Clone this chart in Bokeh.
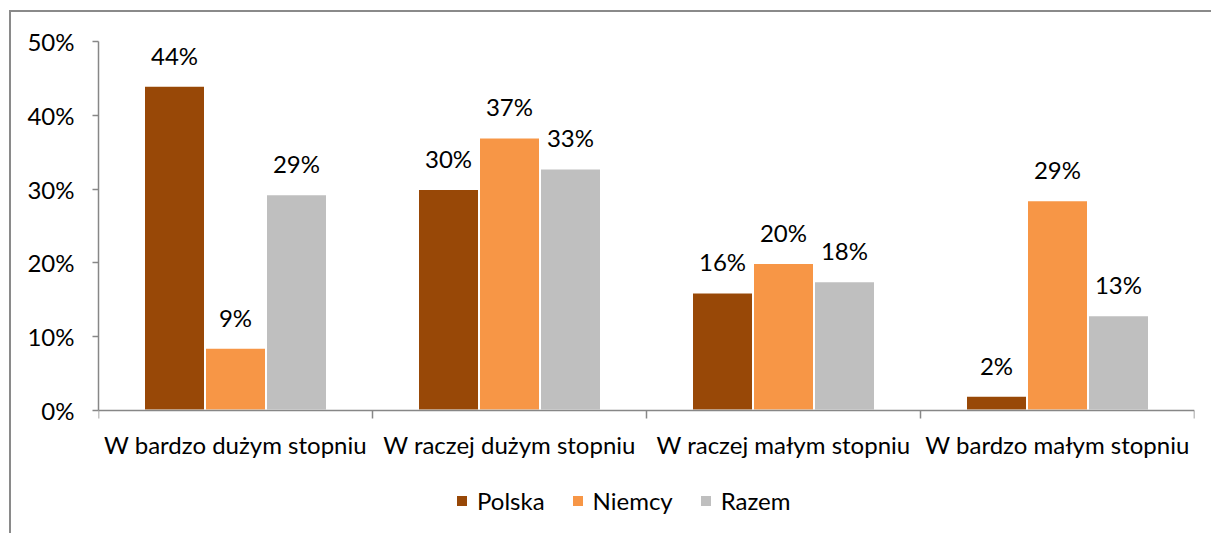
from bokeh.plotting import figure
from bokeh.models import (ColumnDataSource, Range1d, FixedTicker, LabelSet, Legend,
                          LegendItem)
from bokeh.core.properties import value
from bokeh.embed import file_html
from bokeh.resources import INLINE

categories = ["W bardzo dużym stopniu", "W raczej dużym stopniu",
              "W raczej małym stopniu", "W bardzo małym stopniu"]
series_names = ["Polska", "Niemcy", "Razem"]
polska = [44.0, 30.0, 16.0, 2.0]
niemcy = [8.5, 37.0, 20.0, 28.5]
razem = [29.3, 32.8, 17.5, 12.9]
polska_labels = ["44%", "30%", "16%", "2%"]
niemcy_labels = ["9%", "37%", "20%", "29%"]
razem_labels = ["29%", "33%", "18%", "13%"]
y_ticks = [0, 10, 20, 30, 40, 50]
y_tick_labels = ["0%", "10%", "20%", "30%", "40%", "50%"]

colors = ["#984807", "#F79646", "#BFBFBF"]
FONT = "Lato"
FS = "24px"
TXT = "#000000"
AX = "#878787"
FRAME = "#8a8a8a"

W, H = 1211, 533
TOP, BOTTOM = 41, 8           # frame borders in px
ZERO_PX = 410                 # page row of the 0% baseline
y_max = 50
frame_h = H - TOP - BOTTOM
y_min = -y_max * (TOP + frame_h - ZERO_PX) / (ZERO_PX - TOP)

p = figure(width=W, height=H, output_backend="svg", toolbar_location=None,
           x_range=Range1d(0, 4), y_range=Range1d(y_min, y_max),
           min_border_left=98, min_border_right=17, min_border_top=TOP,
           min_border_bottom=BOTTOM)
# thin chart-area frame (left and top edges) painted behind a transparent border area
p.styles = {"background": (f"linear-gradient({FRAME},{FRAME}) 9px 10px / 2px 100% no-repeat, "
                           f"linear-gradient({FRAME},{FRAME}) 9px 10px / 100% 2px no-repeat, white")}
p.border_fill_alpha = 0
p.background_fill_alpha = 0
p.outline_line_color = None
p.xgrid.visible = False
p.ygrid.visible = False

bw = 0.2226
offsets = [-bw, 0.0, bw]
renderers = []
for vals, labs, off, col in zip([polska, niemcy, razem],
                                [polska_labels, niemcy_labels, razem_labels],
                                offsets, colors):
    src = ColumnDataSource(dict(x=[i + 0.5 + off for i in range(len(categories))],
                                top=vals, lab=labs))
    r = p.vbar(x="x", top="top", width=bw, bottom=0, source=src,
               fill_color=col, line_color="white", line_width=2)
    renderers.append(r)
    p.add_layout(LabelSet(x="x", y="top", text="lab", source=src, y_offset=21,
                          text_align="center", text_baseline="alphabetic",
                          text_font=value(FONT), text_font_size=value(FS),
                          text_color=TXT))

# x axis at y=0: labels at category centers, tick marks at category boundaries
xa = p.xaxis[0]
xa.fixed_location = 0
xa.ticker = FixedTicker(ticks=[i + 0.5 for i in range(len(categories))],
                        minor_ticks=list(range(len(categories) + 1)))
xa.major_label_overrides = {i + 0.5: c for i, c in enumerate(categories)}
xa.major_tick_out = 0
xa.major_tick_in = 0
xa.minor_tick_out = 8
xa.minor_tick_in = 0
xa.minor_tick_line_color = AX
xa.minor_tick_line_width = 1.5
xa.axis_line_color = AX
xa.axis_line_width = 1.5
xa.major_label_standoff = 11
xa.major_label_text_font = FONT
xa.major_label_text_font_size = FS
xa.major_label_text_color = TXT

ya = p.yaxis[0]
ya.bounds = (0, y_max)
ya.ticker = FixedTicker(ticks=y_ticks, minor_ticks=[])
ya.major_label_overrides = {t: l for t, l in zip(y_ticks, y_tick_labels)}
ya.major_tick_out = 6
ya.major_tick_in = 0
ya.major_tick_line_color = AX
ya.major_tick_line_width = 1.5
ya.axis_line_color = AX
ya.axis_line_width = 1.5
ya.major_label_standoff = 18
ya.major_label_text_font = FONT
ya.major_label_text_font_size = FS
ya.major_label_text_color = TXT

legend = Legend(items=[LegendItem(label=n, renderers=[r]) for n, r in zip(series_names, renderers)],
                location=(356, 10), orientation="horizontal",
                glyph_width=15, glyph_height=15, label_standoff=8, spacing=25,
                padding=0, margin=0, border_line_color=None, background_fill_alpha=0,
                label_text_font=FONT, label_text_font_size=FS, label_text_color=TXT)
p.add_layout(legend)

open("out.html", "w").write(file_html(p, INLINE))
